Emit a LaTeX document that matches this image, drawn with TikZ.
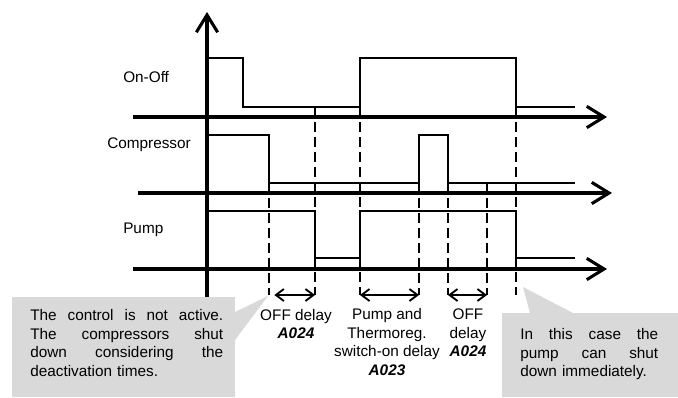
\documentclass[tikz,border=0pt]{standalone}
\usepackage{fontspec}
\setmainfont{Liberation Sans}
\usetikzlibrary{arrows.meta,positioning}
\definecolor{notegray}{HTML}{D9D9D9}
\newcommand{\jline}[2]{{\spaceskip=0pt\xspaceskip=0pt\makebox[#1][s]{#2}}}
\newcommand{\pcode}[1]{\textbf{\textit{#1}}}

\begin{document}
\begin{tikzpicture}[
  x=0.75pt, y=-0.75pt,
  axis/.style={line width=2.3pt, -{Straight Barb[length=13pt,width=16pt]}},
  sig/.style={line width=2.2pt},
  guide/.style={line width=1.4pt, dash pattern=on 7.5pt off 3.75pt},
  span/.style={line width=1.4pt, {Straight Barb[length=6pt,width=9pt]}-{Straight Barb[length=6pt,width=9pt]}},
  note/.style={fill=notegray},
  lbl/.style={inner sep=0pt, font=\fontsize{11.5pt}{14pt}\selectfont, align=center},
  notetext/.style={lbl, align=left, anchor=base west}
]
\useasboundingbox (0,0) rectangle (678,397);

% time axes, one per signal, and the common vertical axis
\coordinate (o) at (207,297);
\coordinate (ytop) at (207,12);
\draw[axis] (o) -- (ytop);
\foreach \n/\y/\xs/\xe in {onoff/117/133/607, comp/193/138/612, pump/269/133/607} {
  \coordinate (s\n) at (\xs,\y);
  \coordinate (e\n) at (\xe,\y);
  \draw[axis] (s\n) -- (e\n);
}

\node[lbl, anchor=west] (lonoff) at (123,77) {On-Off};
\node[lbl, anchor=west] (lcomp) at (107,145) {Compressor};
\node[lbl, anchor=west] (lpump) at (123,230) {Pump};

% signal levels
\draw[sig] (207,58) -| (243,107) -| (360,58) -| (516,107) -- (575,107);
\draw[sig] (207,135) -| (269,183) -| (419,135) -| (448,183) -- (575,183);
\draw[sig] (207,211) -| (315,258) -| (360,211) -| (516,258) -- (575,258);

% switching instants
\foreach \x/\yt in {269/183, 315/107, 360/107, 419/183, 448/183, 487/183, 516/107} {
  \coordinate (g\x) at (\x,295);
  \draw[guide] (\x,\yt) -- (g\x);
}

\draw[span, shorten <=4pt] (g269) -- (g315);
\draw[span] (g360) -- (g419);
\draw[span] (g448) -- (g487);

\node[lbl] (offa) at (296,324) {OFF delay\\\pcode{A024}};
\node[lbl] (swon) at (387,342) {Pump and\\Thermoreg.\\switch-on delay\\\pcode{A023}};
\node[lbl] (offb) at (468,333) {OFF\\delay\\\pcode{A024}};

% callouts
\fill[note] (12,297) rectangle (235,397);
\fill[note] (235,312) -- (268,296) -- (235,340) -- cycle;
\node[notetext, text width=144.75pt] (nctrl) at (30,320.5)
  {\jline{144.75pt}{The control is not active.}\\\jline{144.75pt}{The compressors shut}\\
   \jline{144.75pt}{down considering the}\\deactivation times.};

\fill[note] (502,313) rectangle (678,397);
\fill[note] (530,313) -- (523,287) -- (573,313) -- cycle;
\node[notetext, text width=103.5pt] (npump) at (520,339.5)
  {\jline{103.5pt}{In this case the}\\\jline{103.5pt}{pump can shut}\\down immediately.};
\end{tikzpicture}
\end{document}
